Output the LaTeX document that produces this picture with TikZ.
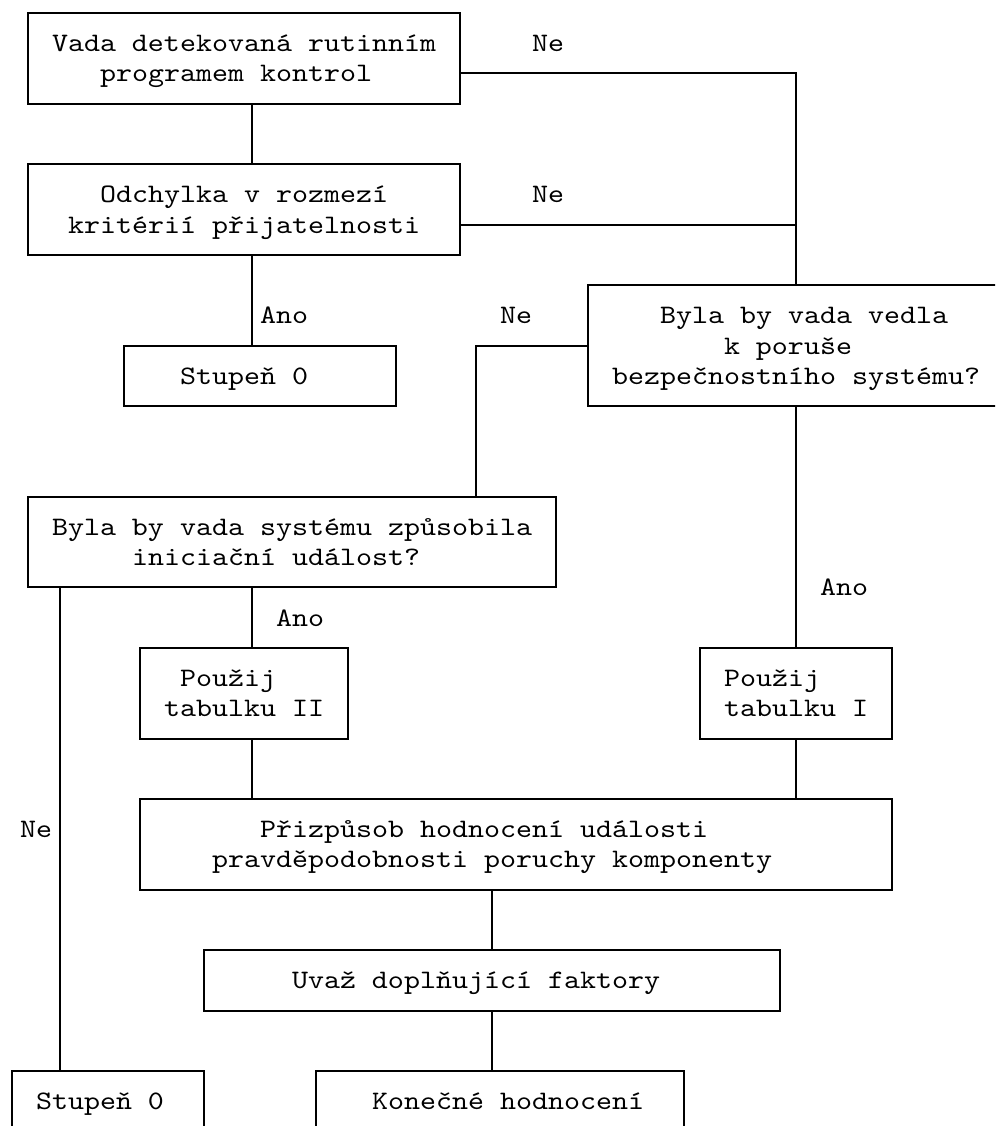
\documentclass[tikz,border=0pt]{standalone}
\usepackage{fontspec}
\newfontfamily\monofam[FakeStretch=1.143]{lmmono10-regular.otf}
\newcommand\mybox[5]{\node[boxst, minimum width={(#4-#2)*16pt}, minimum height={(#5-#3)*30.23pt}] (#1) at (#2,#3) {};}
\newcommand\mytext[4]{\node[txt] (#1) at ({#2-0.5},{#3+0.281}) {#4};}
\tikzset{
  boxst/.style={draw, line width=2pt, inner sep=0pt, outer sep=0pt, anchor=north west, rectangle},
  txt/.style={font=\monofam\fontsize{26.67pt}{30pt}\selectfont, anchor=base west, inner sep=0pt, outer sep=0pt},
  link/.style={line width=2pt}
}
\begin{document}
\begin{tikzpicture}[x=16pt,y=-30.23pt]
\useasboundingbox (0pt,0pt) rectangle (995pt,-1126pt);
\clip (0pt,0pt) rectangle (995pt,-1126pt);
\begin{scope}[shift={(0.75,0.43)}]
% column / row helper coordinates
\coordinate (k3) at (3,0);
\coordinate (k15) at (15,0);
\coordinate (k29) at (29,0);
\coordinate (k30) at (30,0);
\coordinate (k49) at (49,0);
\coordinate (q2) at (0,2);
\coordinate (q7) at (0,7);
\coordinate (q11) at (0,11);
% boxes
\mybox{b1}{1}{0}{28}{3}
\mybox{b2}{1}{5}{28}{8}
\mybox{s1}{7}{11}{24}{13}
\mybox{b3}{36}{9}{63}{13}
\mybox{b4}{1}{16}{34}{19}
\mybox{b5}{8}{21}{21}{24}
\mybox{b6}{43}{21}{55}{24}
\mybox{b7}{8}{26}{55}{29}
\mybox{b8}{12}{31}{48}{33}
\mybox{s2}{0}{35}{12}{37}
\mybox{b10}{19}{35}{42}{37}
% connectors
\draw[link] (b1.east |- q2) -| (b3.north -| k49);
\draw[link] (b2.east |- q7) -- (k49 |- q7);
\draw[link] (b1.south -| k15) -- (b2.north -| k15);
\draw[link] (b2.south -| k15) -- (s1.north -| k15);
\draw[link] (b3.west |- q11) -| (b4.north -| k29);
\draw[link] (b3.south -| k49) -- (b6.north -| k49);
\draw[link] (b4.south -| k3) -- (s2.north -| k3);
\draw[link] (b4.south -| k15) -- (b5.north -| k15);
\draw[link] (b5.south -| k15) -- (b7.north -| k15);
\draw[link] (b6.south -| k49) -- (b7.north -| k49);
\draw[link] (b7.south -| k30) -- (b8.north -| k30);
\draw[link] (b8.south -| k30) -- (b10.north -| k30);
% texts
\mytext{t1a}{3}{1}{Vada detekovaná rutinním}
\mytext{t1b}{6}{2}{programem kontrol}
\mytext{l1}{33}{1}{Ne}
\mytext{t2a}{6}{6}{Odchylka v rozmezí}
\mytext{t2b}{4}{7}{kritérií přijatelnosti}
\mytext{l2}{33}{6}{Ne}
\mytext{l3}{16}{10}{Ano}
\mytext{ts1}{11}{12}{Stupeň 0}
\mytext{t3a}{41}{10}{Byla by vada vedla}
\mytext{t3b}{45}{11}{k poruše}
\mytext{t3c}{38}{12}{bezpečnostního systému?}
\mytext{l4}{31}{10}{Ne}
\mytext{t4a}{3}{17}{Byla by vada systému způsobila}
\mytext{t4b}{8}{18}{iniciační událost?}
\mytext{l5}{17}{20}{Ano}
\mytext{l6}{51}{19}{Ano}
\mytext{t5a}{11}{22}{Použij}
\mytext{t5b}{10}{23}{tabulku II}
\mytext{t6a}{45}{22}{Použij}
\mytext{t6b}{45}{23}{tabulku I}
\mytext{l7}{1}{27}{Ne}
\mytext{t7a}{16}{27}{Přizpůsob hodnocení události}
\mytext{t7b}{13}{28}{pravděpodobnosti poruchy komponenty}
\mytext{t8}{18}{32}{Uvaž doplňující faktory}
\mytext{ts2}{2}{36}{Stupeň 0}
\mytext{t10}{23}{36}{Konečné hodnocení}
\end{scope}
\end{tikzpicture}
\end{document}
